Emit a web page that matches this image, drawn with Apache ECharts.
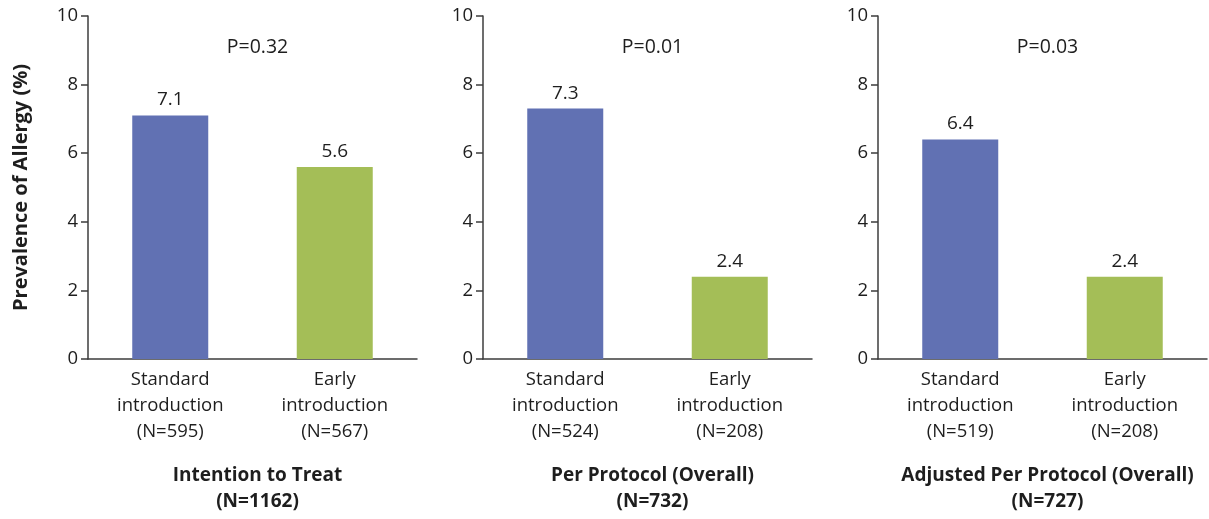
<!DOCTYPE html>
<html><head><meta charset="utf-8">
<script src="https://cdn.jsdelivr.net/npm/echarts@6/dist/echarts.min.js"></script>
<style>html,body{margin:0;padding:0;background:#fff}#c{width:1209px;height:519px}</style>
</head><body><div id="c"></div>
<script>
const panelTitles = ['Intention to Treat', 'Per Protocol (Overall)', 'Adjusted Per Protocol (Overall)'];
const panelNs = [1162, 732, 727];
const pValues = ['0.32', '0.01', '0.03'];
const standardValues = [7.1, 7.3, 6.4];
const earlyValues = [5.6, 2.4, 2.4];
const standardNs = [595, 524, 519];
const earlyNs = [567, 208, 208];
const yTicks = [0, 2, 4, 6, 8, 10];

const FONT = 'Open Sans';
const BLUE = '#6171B3', GREEN = '#A4BE57', AXIS = '#3c3c3c', TXT = '#1e1e1e';
const gridLefts = [88, 483, 878];
const GW = 329, GT = 16, GH = 343;

const grids = [], xAxes = [], yAxes = [], series = [], titles = [];
for (let i = 0; i < 3; i++) {
  grids.push({left: gridLefts[i], top: GT, width: GW, height: GH});
  xAxes.push({
    type: 'category', gridIndex: i,
    data: ['Standard\nintroduction\n(N=' + standardNs[i] + ')', 'Early\nintroduction\n(N=' + earlyNs[i] + ')'],
    axisLine: {lineStyle: {color: AXIS, width: 1.5}},
    axisTick: {show: false},
    axisLabel: {color: TXT, fontFamily: FONT, fontSize: 18.5, lineHeight: 26, margin: 8}
  });
  yAxes.push({
    type: 'value', gridIndex: i, min: yTicks[0], max: yTicks[yTicks.length - 1], interval: 2,
    name: i === 0 ? 'Prevalence of Allergy (%)' : '',
    nameLocation: 'middle', nameGap: 57,
    nameTextStyle: {color: TXT, fontFamily: FONT, fontWeight: 'bold', fontSize: 20},
    axisLine: {show: true, lineStyle: {color: AXIS, width: 1.5}},
    axisTick: {show: true, length: 7, lineStyle: {color: AXIS, width: 1.5}},
    splitLine: {show: false},
    axisLabel: {color: TXT, fontFamily: FONT, fontSize: 18.5, margin: 10}
  });
  series.push({
    type: 'bar', xAxisIndex: i, yAxisIndex: i, barWidth: 76,
    data: [{value: standardValues[i], itemStyle: {color: BLUE}}, {value: earlyValues[i], itemStyle: {color: GREEN}}],
    label: {show: true, position: 'top', distance: 6, color: TXT, fontFamily: FONT, fontSize: 19, formatter: p => p.value.toFixed(1)}
  });
  const cx = gridLefts[i] + GW / 2;
  titles.push({
    text: panelTitles[i] + '\n(N=' + panelNs[i] + ')',
    left: cx, top: 458, textAlign: 'center',
    textStyle: {color: TXT, fontFamily: FONT, fontWeight: 'bold', fontSize: 19, lineHeight: 26}
  });
  titles.push({
    text: 'P=' + pValues[i], left: cx, top: 32, textAlign: 'center',
    textStyle: {color: TXT, fontFamily: FONT, fontWeight: 'normal', fontSize: 19.5}
  });
}

const chart = echarts.init(document.getElementById('c'), null, {renderer: 'canvas'});
chart.setOption({
  animation: false,
  backgroundColor: '#fff',
  title: titles,
  grid: grids, xAxis: xAxes, yAxis: yAxes, series: series
});
</script></body></html>
